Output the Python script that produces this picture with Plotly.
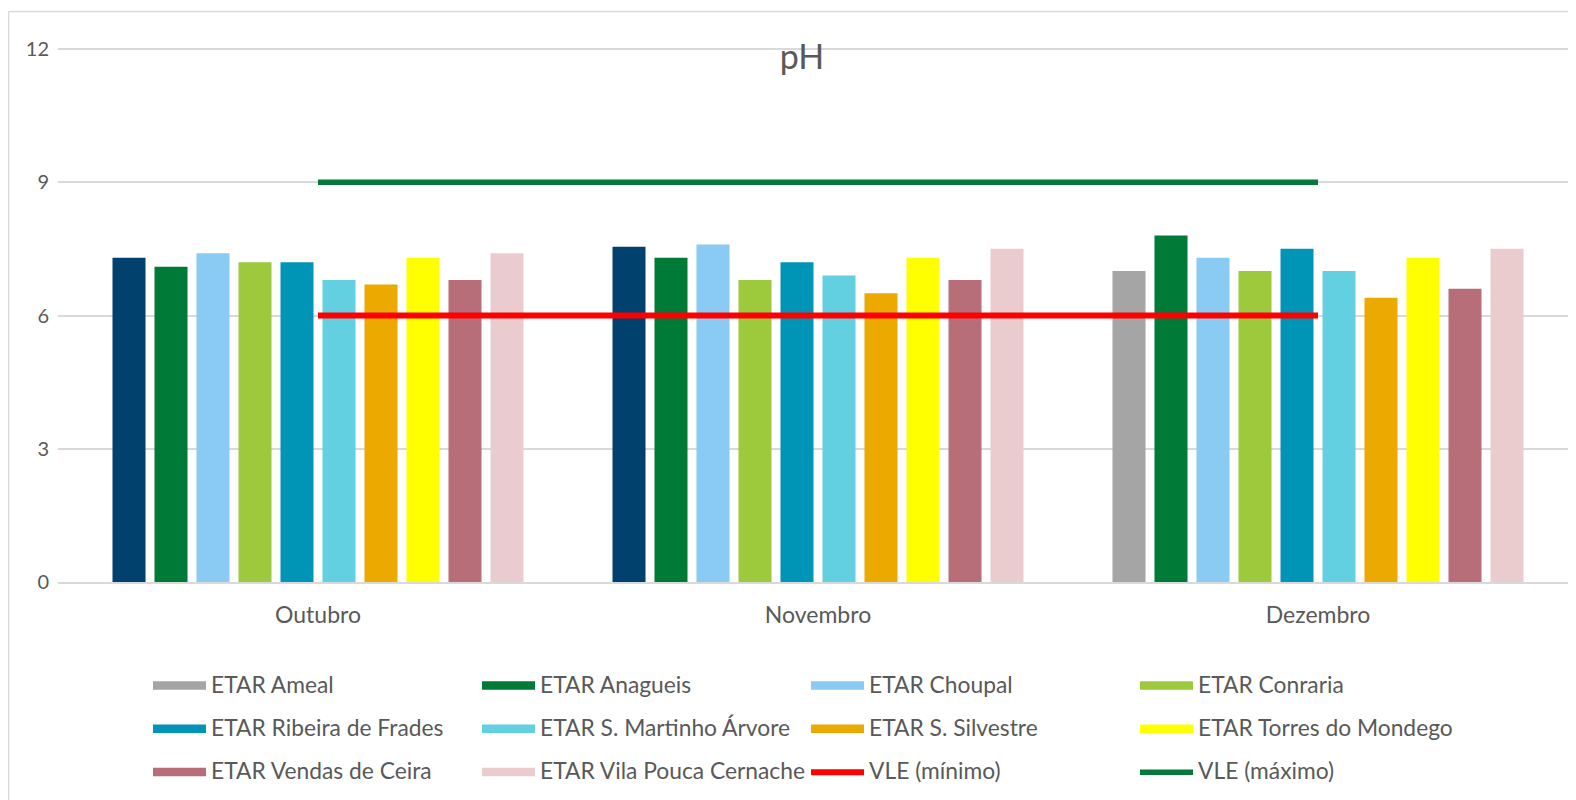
import plotly.graph_objects as go

# ---------------- data ----------------
months = ["Outubro", "Novembro", "Dezembro"]

etar_names = [
    "ETAR Ameal", "ETAR Anagueis", "ETAR Choupal", "ETAR Conraria",
    "ETAR Ribeira de Frades", "ETAR S. Martinho Árvore", "ETAR S. Silvestre",
    "ETAR Torres do Mondego", "ETAR Vendas de Ceira", "ETAR Vila Pouca Cernache",
]
ameal = [7.3, 7.55, 7.0]
anagueis = [7.1, 7.3, 7.8]
choupal = [7.4, 7.6, 7.3]
conraria = [7.2, 6.8, 7.0]
ribeira = [7.2, 7.2, 7.5]
smartinho = [6.8, 6.9, 7.0]
ssilvestre = [6.7, 6.5, 6.4]
torres = [7.3, 7.3, 7.3]
vendas = [6.8, 6.8, 6.6]
vilapouca = [7.4, 7.5, 7.5]
vle_min = [6, 6, 6]
vle_max = [9, 9, 9]
y_ticks = [0, 3, 6, 9, 12]

# ---------------- styles ----------------
series_values = [ameal, anagueis, choupal, conraria, ribeira,
                 smartinho, ssilvestre, torres, vendas, vilapouca]
series_colors = ["#A5A5A5", "#007A37", "#89CBF2", "#9DC93C", "#0094B6",
                 "#62D0E0", "#ECA900", "#FFFF00", "#B76E79", "#EACCCF"]
ameal_point_colors = ["#00416E", "#00416E", "#A5A5A5"]

TXT = "#595959"
GRID = "#D9D9D9"
FONT = "Lato"

W, H = 1576, 800
OFF = 8  # page body margin
L, R, T, B = 50, 15, 39, 226
PW, PH = W - L - R, H - T - B
Y_TOP = 12 + 2 / (533 / 12)  # keep the 12 gridline just inside the plot


def px_x(px):  # window pixel -> paper x
    return (px - OFF - L) / PW


def px_y(py):  # window pixel -> paper y
    return (H - B - (py - OFF)) / PH


def lname(s):
    return '<span style="font-size:22.8px;baseline-shift:5px">' + s + "</span>"


fig = go.Figure()

for i, (name, vals, col) in enumerate(zip(etar_names, series_values, series_colors)):
    colors = ameal_point_colors if i == 0 else col
    fig.add_trace(go.Bar(
        x=months, y=vals, name=name, marker=dict(color=colors, line=dict(width=0)),
        offsetgroup=str(i), showlegend=False, legendgroup=name,
    ))
    # legend swatch
    fig.add_trace(go.Scatter(
        x=[None], y=[None], mode="lines", fill="toself", fillcolor=col,
        line=dict(color=col, width=5), name=lname(name), legendgroup=name,
        hoverinfo="skip",
    ))

fig.add_trace(go.Scatter(
    x=months, y=vle_min, mode="lines", name=lname("VLE (mínimo)"),
    line=dict(color="#FF0000", width=6),
))
fig.add_trace(go.Scatter(
    x=months, y=vle_max, mode="lines", name=lname("VLE (máximo)"),
    line=dict(color="#047A3A", width=5.5),
))

# chart border (top and left edges visible in the crop)
fig.add_shape(type="line", xref="paper", yref="paper",
              x0=px_x(8.5), x1=px_x(1600), y0=px_y(11.5), y1=px_y(11.5),
              line=dict(color=GRID, width=1.5), layer="below")
fig.add_shape(type="line", xref="paper", yref="paper",
              x0=px_x(8.5), x1=px_x(8.5), y0=px_y(11.5), y1=px_y(830),
              line=dict(color=GRID, width=1.5), layer="below")

fig.update_layout(
    width=W, height=H,
    margin=dict(l=L, r=R, t=T, b=B, autoexpand=False),
    paper_bgcolor="white", plot_bgcolor="white",
    font=dict(family=FONT, color=TXT, size=20),
    title=dict(text="pH", x=(802 - OFF) / W, xref="container", xanchor="center",
               y=1 - (57 - OFF) / H, yref="container", yanchor="middle",
               font=dict(family=FONT, size=34, color=TXT)),
    barmode="group", bargap=0.16, bargroupgap=0.214,
    showlegend=True,
    legend=dict(orientation="h", x=px_x(148), xanchor="left",
                y=px_y(659), yanchor="top",
                font=dict(family=FONT, size=31, color=TXT),
                itemwidth=53, entrywidth=261, entrywidthmode="pixels",
                traceorder="normal", bgcolor="rgba(0,0,0,0)"),
    xaxis=dict(range=[-0.52, 2.502], showgrid=False, showline=True,
               linecolor=GRID, linewidth=1.5, ticks="",
               tickfont=dict(family=FONT, size=23, color=TXT),
               ticklabelstandoff=12),
    yaxis=dict(range=[0, Y_TOP], tickvals=y_ticks, showgrid=True, gridcolor=GRID,
               gridwidth=1.5, zeroline=False, showline=False, ticks="",
               tickfont=dict(family=FONT, size=20, color=TXT),
               ticklabelstandoff=8),
)

fig.write_html("out.html")
